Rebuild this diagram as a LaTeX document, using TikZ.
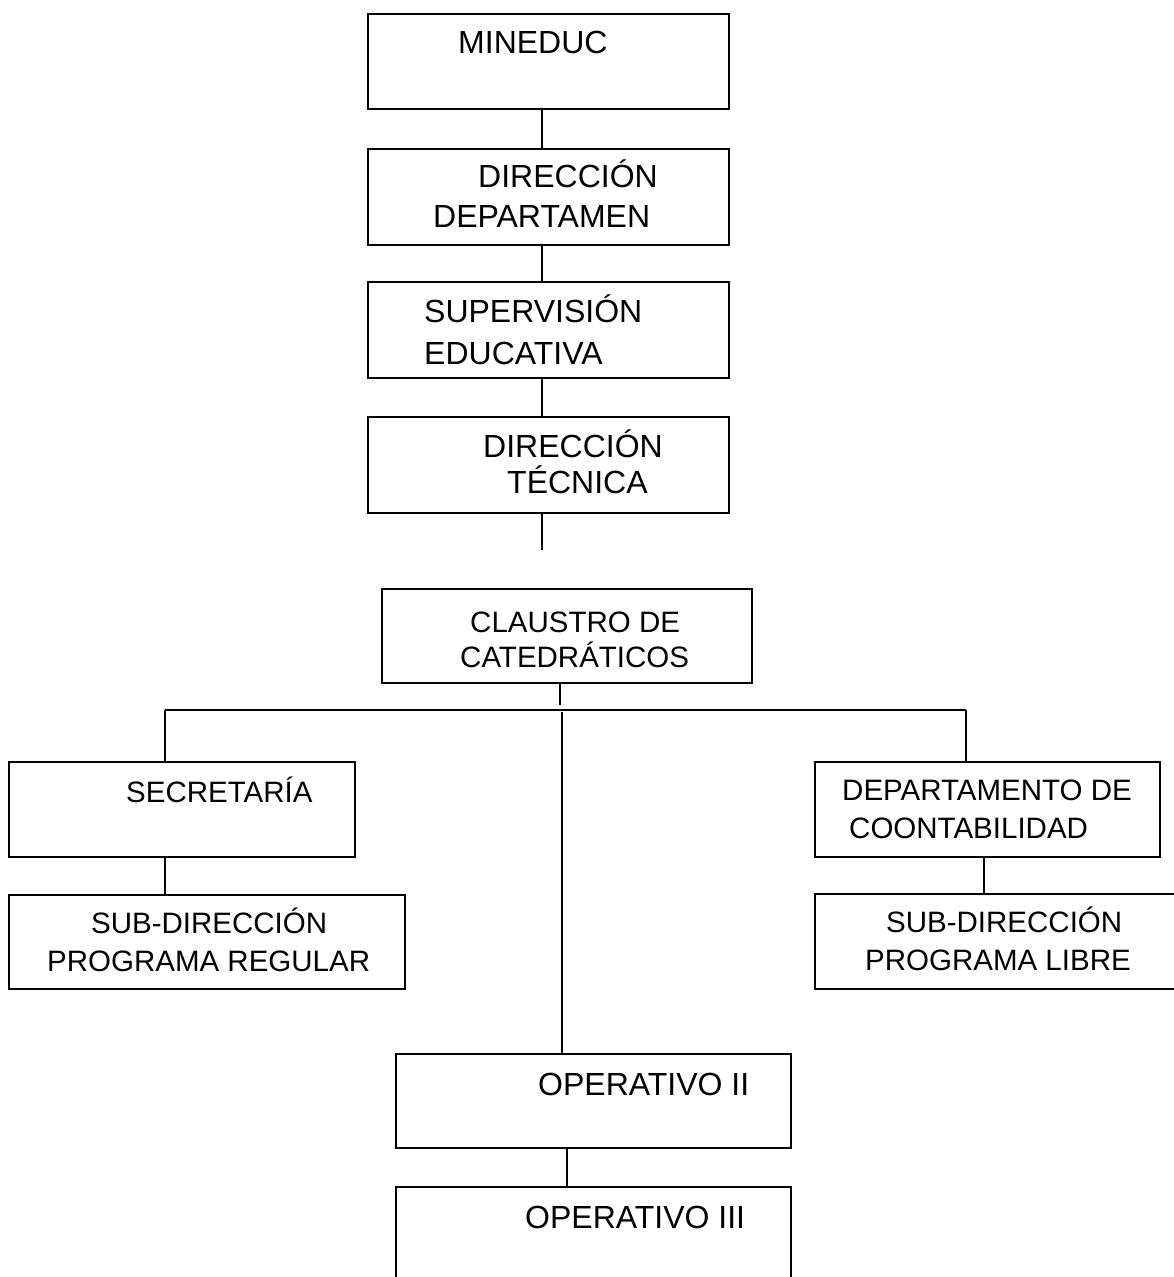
\documentclass[tikz,border=0pt]{standalone}
\usepackage{fontspec}
\setmainfont{Liberation Sans}
\begin{document}
\begin{tikzpicture}[x=1pt,y=-1pt,
  box/.style={draw,line width=1.9pt,rectangle,inner sep=0pt},
  big/.style={anchor=base west,inner sep=0pt,font=\fontsize{32}{38}\selectfont},
  small/.style={anchor=base west,inner sep=0pt,font=\fontsize{29.5}{36}\selectfont},
  conn/.style={line width=1.9pt}]
\useasboundingbox (0,0) rectangle (1174,1277);
\clip (0,0) rectangle (1174,1277);
% boxes
\node[box,minimum width=361pt,minimum height=95pt] (min) at (548.5,61.5) {};
\node[box,minimum width=361pt,minimum height=96pt] (dd) at (548.5,197) {};
\node[box,minimum width=361pt,minimum height=96pt] (sup) at (548.5,330) {};
\node[box,minimum width=361pt,minimum height=96pt] (dt) at (548.5,465) {};
\node[box,minimum width=370pt,minimum height=94pt] (cl) at (567,636) {};
\node[box,minimum width=346pt,minimum height=95pt] (sec) at (182,809.5) {};
\node[box,minimum width=396pt,minimum height=94pt] (subreg) at (207,942) {};
\node[box,minimum width=345pt,minimum height=95pt] (dept) at (987.5,809.5) {};
\node[box,minimum width=375pt,minimum height=95pt] (sublib) at (1002.5,941.5) {};
\node[box,minimum width=395pt,minimum height=94pt] (op2) at (593.5,1101) {};
\node[box,minimum width=395pt,minimum height=113pt] (op3) at (593.5,1243.5) {};
% texts
\node[big] (tmin) at (458,53) {MINEDUC};
\node[big] (tdd1) at (478,187) {DIRECCIÓN};
\node[big] (tdd2) at (433,227) {DEPARTAMEN};
\node[big] (tsup1) at (424,322) {SUPERVISIÓN};
\node[big] (tsup2) at (424,364) {EDUCATIVA};
\node[big] (tdt1) at (483,457) {DIRECCIÓN};
\node[big] (tdt2) at (507,493) {TÉCNICA};
\node[small] (tcl1) at (470,632) {CLAUSTRO DE};
\node[small] (tcl2) at (460,667) {CATEDRÁTICOS};
\node[small] (tsec) at (126,802) {SECRETARÍA};
\node[small] (tsr1) at (91,933) {SUB-DIRECCIÓN};
\node[small] (tsr2) at (47,971) {PROGRAMA REGULAR};
\node[small] (tdp1) at (842,800) {DEPARTAMENTO DE};
\node[small] (tdp2) at (849,838) {COONTABILIDAD};
\node[small] (tsl1) at (886,932) {SUB-DIRECCIÓN};
\node[small] (tsl2) at (865,970) {PROGRAMA LIBRE};
\node[big] (top2) at (538,1095) {OPERATIVO II};
\node[big] (top3) at (525,1228) {OPERATIVO III};
% connectors
\coordinate (xa) at (542,0);
\coordinate (dtend) at (542,550);
\coordinate (clend) at (560,705);
\coordinate (hl) at (165,710);
\coordinate (hr) at (966,710);
\coordinate (ctop) at (562,712);
\coordinate (xr) at (984,0);
\coordinate (xo) at (567,0);
\draw[conn] (min.south -| xa) -- (dd.north -| xa);
\draw[conn] (dd.south -| xa) -- (sup.north -| xa);
\draw[conn] (sup.south -| xa) -- (dt.north -| xa);
\draw[conn] (dt.south -| xa) -- (dtend);
\draw[conn] (cl.south -| clend) -- (clend);
\draw[conn] (hl) -- (hr);
\draw[conn] (hl) -- (sec.north -| hl);
\draw[conn] (hr) -- (dept.north -| hr);
\draw[conn] (ctop) -- (op2.north -| ctop);
\draw[conn] (sec.south -| hl) -- (subreg.north -| hl);
\draw[conn] (dept.south -| xr) -- (sublib.north -| xr);
\draw[conn] (op2.south -| xo) -- (op3.north -| xo);
\end{tikzpicture}
\end{document}
